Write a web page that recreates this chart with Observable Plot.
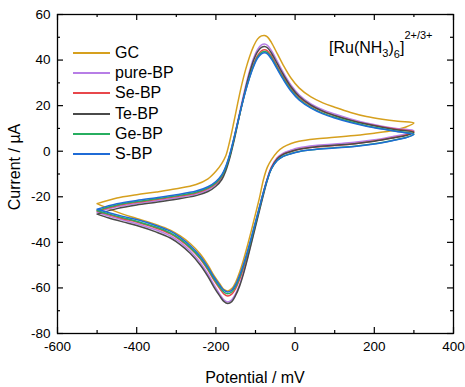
<!DOCTYPE html>
<html><head><meta charset="utf-8">
<script src="https://cdn.jsdelivr.net/npm/d3@7"></script>
<script src="https://cdn.jsdelivr.net/npm/@observablehq/plot@0.6"></script>
<style>
body{margin:0;background:#fff;}
#wrap{position:relative;width:465px;height:387px;font-family:"Liberation Sans",Arial,sans-serif;color:#000;overflow:hidden;}
#wrap svg{position:absolute;left:0;top:0;}
.ov{position:absolute;white-space:nowrap;}
.lg{position:absolute;left:73px;height:20px;width:120px;white-space:nowrap;}
.lg span.ln{position:absolute;left:0;top:9px;width:37px;height:2px;}
.lg span.tx{position:absolute;left:42px;top:0;font-size:16px;line-height:20px;white-space:nowrap;}
</style></head><body><div id="wrap"></div>
<script>
const seriesNames = ["GC","pure-BP","Se-BP","Te-BP","Ge-BP","S-BP"];
const seriesColors = ["#d6a01e","#b77ee6","#e8474b","#4a4a4a","#27ae60","#1f6bd6"];
const xMajor = [-600,-400,-200,0,200,400];
const xMinor = [-500,-300,-100,100,300];
const yMajor = [-80,-60,-40,-20,0,20,40,60];
const yMinor = [-70,-50,-30,-10,10,30,50];

// potentials (mV)
const potentialFwd = [-500,-450,-400,-350,-300,-250,-220,-200,-185,-175,-165,-155,-145,-135,-125,-115,-105,-95,-85,-77,-70,-60,-45,-30,-10,10,40,70,100,140,180,220,260,300];
const potentialRev = [300,280,250,200,150,100,50,10,-10,-30,-45,-60,-70,-80,-90,-100,-110,-120,-130,-140,-150,-160,-170,-180,-190,-205,-220,-240,-265,-290,-315,-350,-400,-435,-470,-500];

// currents (µA)
const gcFwd = [-23.0,-20.5,-19.1,-17.9,-16.5,-14.6,-12.1,-8.8,-5.3,-2.0,4.5,12.5,21.0,29.0,35.8,41.5,46.0,49.2,50.6,50.8,50.2,47.8,42.8,37.8,32.0,27.8,23.8,21.2,19.3,17.0,15.2,14.0,13.1,12.4];
const gcRev = [12.4,10.6,9.2,7.9,6.9,6.1,5.4,4.4,3.4,1.8,-0.3,-3.8,-7.0,-12.5,-20.5,-27.5,-34.5,-41.2,-47.5,-53.0,-57.5,-60.3,-61.3,-60.6,-58.3,-54.5,-50.0,-45.0,-40.5,-37.2,-34.6,-32.2,-29.5,-27.6,-25.3,-23.0];

const pureFwd = [-26.8,-24.4,-22.9,-21.7,-20.4,-18.8,-16.9,-14.6,-11.6,-7.8,-2.2,5.0,13.0,21.0,28.5,35.2,40.8,44.6,46.7,47.1,46.5,44.2,39.4,34.6,29.0,24.8,20.8,18.2,16.3,14.2,12.4,11.0,9.9,9.0];
const pureRev = [9.0,7.6,6.6,5.0,3.9,3.2,2.5,1.5,0.5,-0.8,-2.8,-7.0,-12.0,-18.5,-25.5,-32.5,-39.5,-46.5,-53.0,-58.5,-62.5,-65.2,-66.2,-65.2,-62.8,-58.6,-54.0,-48.8,-43.8,-40.0,-37.2,-34.6,-31.8,-30.2,-28.5,-26.8];

const seFwd = [-26.3,-23.9,-22.4,-21.2,-19.9,-18.3,-16.4,-14.1,-11.1,-7.4,-2.0,4.8,12.4,19.9,26.8,32.9,38.0,41.9,44.0,44.5,44.0,41.8,37.2,32.7,27.5,23.6,19.9,17.4,15.6,13.6,11.9,10.6,9.5,8.6];
const seRev = [8.6,7.1,6.0,4.5,3.3,2.5,1.8,0.9,-0.1,-1.3,-3.2,-7.2,-12.0,-18.0,-24.8,-31.6,-38.4,-45.0,-51.0,-56.2,-60.2,-62.7,-63.5,-62.6,-60.4,-56.6,-52.2,-47.2,-42.6,-39.0,-36.3,-33.8,-31.1,-29.6,-27.9,-26.3];

const teFwd = [-27.6,-25.2,-23.6,-22.4,-21.1,-19.5,-17.7,-15.4,-12.4,-8.6,-3.0,4.0,12.0,20.0,27.5,34.2,39.8,43.6,45.6,46.0,45.4,43.1,38.4,33.7,28.2,24.1,20.2,17.6,15.7,13.6,11.9,10.5,9.3,8.3];
const teRev = [8.3,6.9,5.9,4.4,3.3,2.6,1.9,0.9,-0.1,-1.4,-3.4,-7.6,-12.6,-19.1,-26.1,-33.1,-40.1,-47.1,-53.6,-59.1,-63.2,-66.0,-66.8,-65.9,-63.6,-59.6,-55.0,-49.8,-44.8,-41.0,-38.1,-35.5,-32.6,-31.0,-29.3,-27.6];

const geFwd = [-26.0,-23.6,-22.1,-20.9,-19.6,-18.0,-16.1,-13.8,-10.8,-7.1,-1.8,5.0,12.4,19.8,26.6,32.5,37.5,41.3,43.3,43.8,43.3,41.1,36.5,32.0,26.8,22.9,19.2,16.7,14.9,12.9,11.2,9.9,8.7,7.6];
const geRev = [7.6,6.0,4.9,3.3,2.2,1.5,0.8,-0.1,-1.0,-2.2,-4.0,-7.8,-12.4,-18.2,-24.8,-31.4,-38.0,-44.4,-50.2,-55.3,-59.3,-61.8,-62.6,-61.8,-59.7,-56.0,-51.7,-46.8,-42.2,-38.6,-35.9,-33.4,-30.7,-29.2,-27.6,-26.0];

const sFwd = [-25.5,-23.1,-21.6,-20.4,-19.1,-17.5,-15.6,-13.3,-10.3,-6.6,-1.3,5.4,12.6,19.8,26.4,32.2,37.1,40.8,42.7,43.2,42.7,40.5,36.0,31.5,26.3,22.5,18.9,16.4,14.6,12.6,11.0,9.7,8.5,7.4];
const sRev = [7.4,5.9,4.8,3.2,2.1,1.4,0.7,-0.2,-1.1,-2.3,-4.1,-7.8,-12.3,-18.0,-24.5,-31.0,-37.5,-43.8,-49.5,-54.5,-58.5,-61.0,-61.8,-61.0,-58.9,-55.2,-50.9,-46.0,-41.4,-37.8,-35.1,-32.7,-30.0,-28.6,-27.0,-25.5];

const fwdAll = [gcFwd,pureFwd,seFwd,teFwd,geFwd,sFwd];
const revAll = [gcRev,pureRev,seRev,teRev,geRev,sRev];

const rows = [];
seriesNames.forEach((s,i)=>{
  potentialFwd.forEach((e,j)=>rows.push({series:s,E:e,I:fwdAll[i][j]}));
  potentialRev.forEach((e,j)=>{ if(j>0) rows.push({series:s,E:e,I:revAll[i][j]}); });
});

const W=465,H=387,mL=57,mR=12,mT=14,mB=54;
const innerW=W-mL-mR, innerH=H-mT-mB;

const chart = Plot.plot({
  width:W,height:H,marginLeft:mL,marginRight:mR,marginTop:mT,marginBottom:mB,
  style:{fontFamily:"Liberation Sans, Arial, sans-serif",fontSize:"13.5px",color:"#000",background:"#fff",overflow:"visible"},
  x:{domain:[-600,400]},
  y:{domain:[-80,60]},
  color:{domain:seriesNames,range:seriesColors},
  marks:[
    Plot.line(rows,{x:"E",y:"I",z:"series",stroke:"series",strokeWidth:1.5,curve:"catmull-rom"}),
    Plot.tickX(xMajor,{x:d=>d,insetTop:innerH-6,stroke:"#000",strokeWidth:1.2}),
    Plot.tickX(xMinor,{x:d=>d,insetTop:innerH-3,stroke:"#000",strokeWidth:1.2}),
    Plot.tickX(xMajor,{x:d=>d,insetBottom:innerH-6,stroke:"#000",strokeWidth:1.2}),
    Plot.tickX(xMinor,{x:d=>d,insetBottom:innerH-3,stroke:"#000",strokeWidth:1.2}),
    Plot.tickY(yMajor,{y:d=>d,insetRight:innerW-6,stroke:"#000",strokeWidth:1.2}),
    Plot.tickY(yMinor,{y:d=>d,insetRight:innerW-3,stroke:"#000",strokeWidth:1.2}),
    Plot.tickY(yMajor,{y:d=>d,insetLeft:innerW-6,stroke:"#000",strokeWidth:1.2}),
    Plot.tickY(yMinor,{y:d=>d,insetLeft:innerW-3,stroke:"#000",strokeWidth:1.2}),
    Plot.frame({stroke:"#000",strokeWidth:1.3}),
    Plot.axisX({ticks:xMajor,tickSize:0,tickPadding:8,label:null,tickFormat:d=>String(d)}),
    Plot.axisY({ticks:yMajor,tickSize:0,tickPadding:7,label:null,tickFormat:d=>String(d)})
  ]
});

const wrap = document.getElementById("wrap");
wrap.appendChild(chart);

// legend
seriesNames.forEach((s,i)=>{
  const d = document.createElement("div");
  d.className="lg";
  d.style.top = (43 + i*20.2) + "px";
  d.innerHTML = `<span class="ln" style="background:${seriesColors[i]}"></span><span class="tx">${s}</span>`;
  wrap.appendChild(d);
});

// annotation
const ann = document.createElement("div");
ann.className="ov";
ann.style.cssText="left:329px;top:40px;font-size:16px;line-height:16px;";
ann.innerHTML='[Ru(NH<span style="font-size:11px;position:relative;top:4px">3</span>)<span style="font-size:11px;position:relative;top:5px">6</span>]<span style="font-size:11px;position:relative;top:-14px">2+/3+</span>';
wrap.appendChild(ann);

// axis titles
const xt = document.createElement("div");
xt.className="ov";
xt.style.cssText="left:155px;width:200px;text-align:center;top:369px;font-size:16px;line-height:18px;";
xt.textContent="Potential / mV";
wrap.appendChild(xt);

const yt = document.createElement("div");
yt.className="ov";
yt.style.cssText="left:-85px;width:200px;text-align:center;top:158px;font-size:16px;line-height:18px;transform:rotate(-90deg);";
yt.textContent="Current / µA";
wrap.appendChild(yt);
</script>
</body></html>
